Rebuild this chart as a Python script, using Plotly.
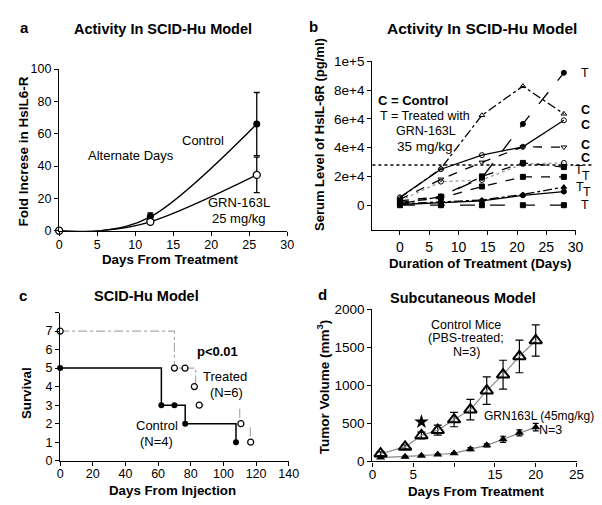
import plotly.graph_objects as go

W, H = 602, 505
FONT = "Liberation Sans, Arial, sans-serif"

# ---------------- Panel a data ----------------
a_days = [0, 12, 26]
a_ctrl = [0, 9, 66]
a_ctrl_err = [0, 2, 19.5]
a_grn = [0, 5.5, 34.5]
a_grn_err = [0, 1, 11]
a_curve_days = [0, 5.5, 12, 26]
a_curve_ctrl = [0, 0, 8.5, 66]
a_curve_grn = [0, 0, 5.5, 34.5]

# ---------------- Panel b data ----------------
b_days = [0, 7, 14, 21, 28]
b_series = {
    "C1": [5000, 25500, 62500, 82700, 63500],
    "C2": [5500, 25000, 34800, 40600, 59000],
    "C3": [4000, 18000, 29800, 40600, 40300],
    "C4": [3000, 16400, 17500, 28700, 29400],
    "T1": [1000, 6000, 19000, 56500, 92000],
    "T2": [3000, 6000, 20000, 29400, 26500],
    "T3": [2000, 5000, 13000, 19700, 19700],
    "T4": [1000, 2500, 3600, 7500, 12600],
    "T5": [500, 1500, 3000, 6900, 9500],
    "T6": [0, 0, 0, 0, 0],
}
b_threshold = 28000
b_end_labels = [("T", 30.6, 92000, False), ("C", 30.6, 66000, True), ("C", 30.6, 56000, True),
                ("C", 30.6, 42000, True), ("C", 30.6, 33000, True), ("T", 29.6, 24500, False),
                ("T", 30.8, 20000, False), ("T", 29.7, 12500, False), ("T", 30.9, 9500, False),
                ("T", 30.6, 0, False)]

# ---------------- Panel c data ----------------
c_ctrl_x = [0, 62, 62, 76.6, 76.6, 107.7, 107.7]
c_ctrl_y = [5, 5, 3, 3, 2, 2, 1]
c_ctrl_mx = [0, 62, 70, 76.6, 107.7]
c_ctrl_my = [5, 3, 3, 2, 1]
c_trt_x = [0, 70, 70, 83, 83, None, 85, 88, None, 110, 110, None, 116.5, 116.5]
c_trt_y = [7, 7, 5, 5, 4.1, None, 3, 3, None, 2.8, 2.2, None, 1.8, 1.2]
c_trt_mx = [0, 70, 76.5, 82.2, 85.2, 110.7, 116.7]
c_trt_my = [7, 5, 5, 4, 3, 2, 1]

# ---------------- Panel d data ----------------
d_days = [1, 4, 6, 8, 10, 12, 14, 16, 18, 20]
d_ctrl = [100, 190, 340, 410, 550, 680, 930, 1140, 1380, 1590]
d_ctrl_err = [25, 25, 45, 65, 95, 135, 180, 190, 215, 205]
d_grn = [50, 60, 75, 90, 105, 160, 210, 290, 375, 450]
d_grn_err = [10, 10, 10, 10, 10, 20, 20, 40, 40, 50]
d_star = (6, 520)


def px(x):
    return x / W


def py(y):
    return 1 - y / H


B_X0, B_X1 = 369, 577
B_R0, B_R1 = -4.7, 30


def bx(v):
    return px(B_X0 + (v - B_R0) * (B_X1 - B_X0) / (B_R1 - B_R0))


fig = go.Figure()

# Panel a
for ys in (a_curve_ctrl, a_curve_grn):
    fig.add_trace(go.Scatter(x=a_curve_days, y=ys, mode="lines",
                             line=dict(color="black", width=1.4, shape="spline", smoothing=1.0),
                             xaxis="x", yaxis="y", showlegend=False, hoverinfo="skip"))
fig.add_trace(go.Scatter(x=a_days, y=a_ctrl, mode="markers", marker=dict(symbol="circle", size=7, color="black"),
                         error_y=dict(type="data", array=a_ctrl_err, color="black", thickness=1.3, width=3),
                         xaxis="x", yaxis="y", showlegend=False, cliponaxis=False))
fig.add_trace(go.Scatter(x=a_days, y=a_grn, mode="markers", marker=dict(symbol="circle", size=7, color="white", line=dict(color="black", width=1.3)),
                         error_y=dict(type="data", array=a_grn_err, color="black", thickness=1.3, width=3),
                         xaxis="x", yaxis="y", showlegend=False, cliponaxis=False))

# Panel b
b_styles = {
    "C1": dict(dash="dashdot", sym="triangle-up-open", color="black"),
    "C2": dict(dash="solid", sym="circle-open", color="black"),
    "C3": dict(dash="dash", sym="triangle-down-open", color="black"),
    "C4": dict(dash="dot", sym="circle-open", color="#9a9a9a"),
    "T1": dict(dash="longdash", sym="circle", color="black"),
    "T2": dict(dash="dash", sym="square", color="black"),
    "T3": dict(dash="dash", sym="square", color="black"),
    "T4": dict(dash="dashdot", sym="triangle-up", color="black"),
    "T5": dict(dash="solid", sym="circle", color="black"),
    "T6": dict(dash="longdash", sym="square", color="black"),
}
for name, vals in b_series.items():
    st = b_styles[name]
    fig.add_trace(go.Scatter(x=b_days, y=vals, mode="lines+markers",
                             line=dict(color=st["color"], width=1.3, dash=st["dash"]),
                             marker=dict(symbol=st["sym"], size=5, color="black", line=dict(color="black", width=1)),
                             xaxis="x2", yaxis="y2", showlegend=False, cliponaxis=False))

# Panel c
fig.add_trace(go.Scatter(x=c_trt_x, y=c_trt_y, mode="lines", line=dict(color="#a8a8a8", width=1.2, dash="dashdot"), xaxis="x3", yaxis="y3", showlegend=False))
fig.add_trace(go.Scatter(x=c_ctrl_x, y=c_ctrl_y, mode="lines", line=dict(color="black", width=1.5), xaxis="x3", yaxis="y3", showlegend=False))
fig.add_trace(go.Scatter(x=c_trt_mx, y=c_trt_my, mode="markers", marker=dict(symbol="circle", size=6, color="white", line=dict(color="black", width=1.2)), xaxis="x3", yaxis="y3", showlegend=False, cliponaxis=False))
fig.add_trace(go.Scatter(x=c_ctrl_mx, y=c_ctrl_my, mode="markers", marker=dict(symbol="circle", size=6, color="black"), xaxis="x3", yaxis="y3", showlegend=False, cliponaxis=False))

# Panel d
fig.add_trace(go.Scatter(x=d_days, y=d_grn, mode="lines+markers", line=dict(color="#888888", width=1.2),
                         marker=dict(symbol="triangle-up", size=8, color="black"),
                         error_y=dict(type="data", array=d_grn_err, color="black", thickness=1.2, width=3),
                         xaxis="x4", yaxis="y4", showlegend=False, cliponaxis=False))
fig.add_trace(go.Scatter(x=d_days, y=d_ctrl, mode="lines+markers", line=dict(color="#888888", width=1.2),
                         marker=dict(symbol="triangle-up-open", size=11, color="black", line=dict(color="black", width=2)),
                         error_y=dict(type="data", array=d_ctrl_err, color="black", thickness=1.2, width=4),
                         xaxis="x4", yaxis="y4", showlegend=False, cliponaxis=False))
fig.add_trace(go.Scatter(x=[d_star[0]], y=[d_star[1]], mode="markers", marker=dict(symbol="star", size=11, color="black"),
                         xaxis="x4", yaxis="y4", showlegend=False, cliponaxis=False))

axis_common = dict(showline=True, linecolor="black", linewidth=1.4, ticks="outside", ticklen=4,
                   tickcolor="black", tickwidth=1.2, showgrid=False, zeroline=False,
                   tickfont=dict(family=FONT, size=12.5, color="black"))


def ax(**kw):
    d = dict(axis_common)
    if "fs" in kw:
        d["tickfont"] = dict(family=FONT, size=kw.pop("fs"), color="black")
    d.update(kw)
    return d


fig.update_layout(
    width=W, height=H, autosize=False,
    margin=dict(l=0, r=0, t=0, b=0),
    paper_bgcolor="white", plot_bgcolor="white",
    font=dict(family=FONT, color="black"),
    xaxis=ax(domain=[px(48.3), px(281.7)], range=[0, 30], tickvals=[0, 5, 10, 15, 20, 25, 30], anchor="y", ticklabelstandoff=-2),
    yaxis=ax(domain=[py(222.3), py(55.7)], range=[0, 100], tickvals=[0, 20, 40, 60, 80, 100], anchor="x"),
    xaxis2=ax(domain=[px(B_X0), px(B_X1)], range=[B_R0, B_R1], tickvals=[0, 5, 10, 15, 20, 25, 30], anchor="y2", fs=14),
    yaxis2=ax(domain=[py(221.7), py(47.7)], range=[-17300, 100000], tickvals=[0, 20000, 40000, 60000, 80000, 100000],
              ticktext=["0", "2e+4", "4e+4", "6e+4", "8e+4", "1e+5"], anchor="x2", fs=13.5),
    xaxis3=ax(domain=[px(49.3), px(283.3)], range=[0, 140], tickvals=[0, 20, 40, 60, 80, 100, 120, 140], anchor="y3", ticklabelstandoff=-3),
    yaxis3=ax(domain=[py(459.3), py(306.7)], range=[0, 8], tickvals=[0, 1, 2, 3, 4, 5, 6, 7, 8],
              ticktext=["0", "1", "2", "3", "4", "5", "6", "7", " "], anchor="x3"),
    xaxis4=ax(domain=[px(369), px(578)], range=[0, 25], tickvals=[0, 5, 10, 15, 20, 25],
              ticktext=["0", "5", " ", "15", "20", "25"], anchor="y4", fs=13.5, ticklabelstandoff=-4),
    yaxis4=ax(domain=[py(460), py(303.3)], range=[0, 2000], tickvals=[0, 500, 1000, 1500, 2000], anchor="x4", fs=13.5),
)

fig.add_shape(type="line", xref="paper", yref="y2", x0=px(369), x1=px(600), y0=b_threshold, y1=b_threshold,
              line=dict(color="black", width=1.5, dash="dot"))

ann = []


def text(x, y, t, size=12.5, bold=False, angle=0, xanchor="center"):
    ann.append(dict(x=px(x), y=py(y), xref="paper", yref="paper", text=("<b>%s</b>" % t) if bold else t,
                    showarrow=False, font=dict(family=FONT, size=size, color="black"), textangle=angle,
                    xanchor=xanchor, yanchor="middle"))


# panel letters and titles
text(13, 13, "a", 15, True)
text(309, 12, "b", 15, True)
text(11, 289, "c", 15, True)
text(318, 288, "d", 15, True)
text(155, 14, "Activity In SCID-Hu Model", 14.5, True)
text(481, 14, "Activity In SCID-Hu Model", 15.5, True)
text(138, 290, "SCID-Hu Model", 14.5, True)
text(462, 292, "Subcutaneous Model", 14.5, True)

# axis titles
text(162, 252, "Days From Treatment", 13.3, True)
text(480, 256, "Duration of Treatment (Days)", 13.3, True)
text(164, 490, "Days From Injection", 13.3, True)
text(476, 491, "Days From Treatment", 13.3, True)
text(12, 141, "Fold Increse in HsIL6-R", 13.5, True, -90)
text(315, 123, "Serum Level of HsIL-6R (pg/ml)", 13, True, -90)
text(15, 390, "Survival", 13.3, True, -90)
text(318, 383, "Tumor Volume (mm<sup>3</sup>)", 13.5, True, -90)

# panel a labels
text(196, 129, "Control", 13)
text(122, 145, "Alternate Days", 13)
text(232, 193, "GRN-163L", 13)
text(232, 210, "25 mg/kg", 13)

# panel b labels
text(373, 88, "C = Control", 13, True, xanchor="left")
text(375, 104, "T = Treated with", 12.5, xanchor="left")
text(424, 120, "GRN-163L", 12.5)
text(423, 136, "35 mg/kg", 13.5)

# panel c labels
text(210, 347, "p<0.01", 13, True)
text(218, 373, "Treated", 13)
text(220, 389, "(N=6)", 13)
text(148, 423, "Control", 13)
text(148, 440, "(N=4)", 13)

# panel d labels
text(465, 320, "Control Mice", 12.5)
text(465, 333, "(PBS-treated;", 12.5)
text(465, 347, "N=3)", 12.5)
text(598, 413, "GRN163L (45mg/kg)", 12, xanchor="right")
text(551, 428, "N=3", 12.5)

for lab, xv, yv, bold in b_end_labels:
    ann.append(dict(x=bx(xv), y=yv, xref="paper", yref="y2", text=("<b>%s</b>" % lab) if bold else lab,
                    showarrow=False, font=dict(family=FONT, size=12.5, color="black"), xanchor="left", yanchor="middle"))

fig.update_layout(annotations=ann)

fig.write_html("out.html")
